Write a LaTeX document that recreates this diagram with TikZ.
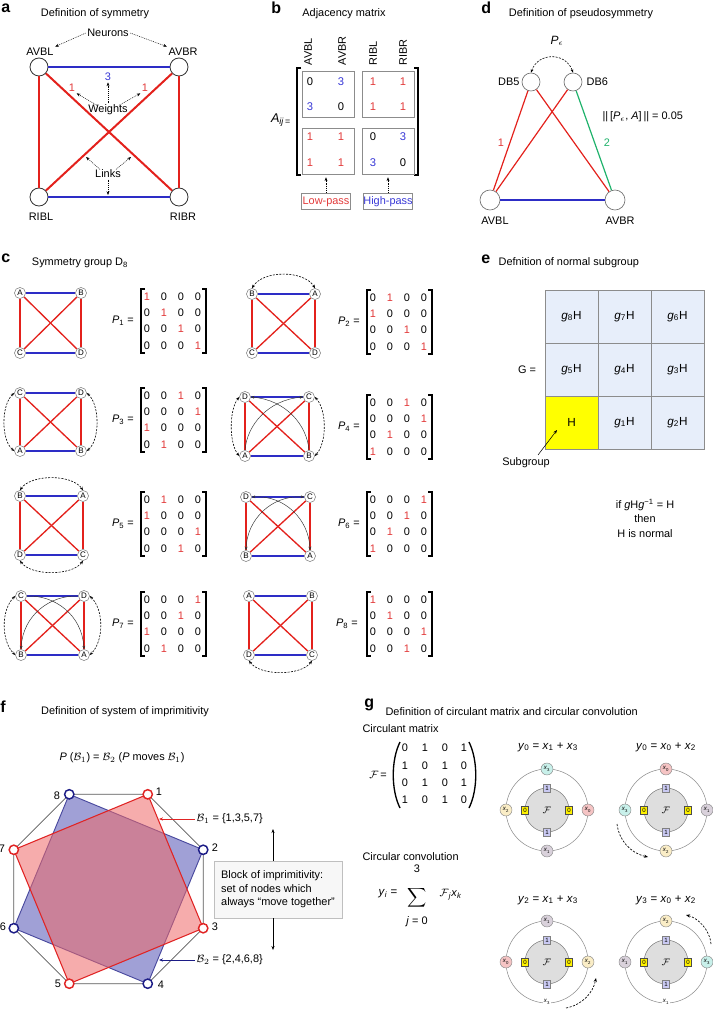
\documentclass[tikz,border=0pt]{standalone}
\usepackage{fontspec}
\setmainfont{Liberation Sans}
\usetikzlibrary{arrows.meta,calc}
\definecolor{cred}{HTML}{E3211C}
\definecolor{cblue}{HTML}{2D2DC6}
\definecolor{cgreen}{HTML}{1FB26B}
\definecolor{tred}{HTML}{E23A3A}
\definecolor{tblue}{HTML}{3838D6}
\definecolor{cellbl}{HTML}{E7EEFA}
\definecolor{hyel}{HTML}{FFFF00}
\definecolor{fblue}{HTML}{A0A0D6}
\definecolor{fred}{HTML}{EE6868}
\definecolor{oblue}{HTML}{1C1C86}
\definecolor{ored}{HTML}{E02424}
\definecolor{xpink}{HTML}{F5C4C4}
\definecolor{xgray}{HTML}{D9D1DB}
\definecolor{xcream}{HTML}{FAEDC6}
\definecolor{xcyan}{HTML}{C8F0EA}
\definecolor{onebg}{HTML}{C9C9F2}
\definecolor{zerobg}{HTML}{FFF200}

\newcommand{\sqg}[9]{%
  \node[snode] (#1tl) at (#2,#3) {#6};
  \node[snode] (#1tr) at (#4,#3) {#7};
  \node[snode] (#1bl) at (#2,#5) {#8};
  \node[snode] (#1br) at (#4,#5) {#9};
  \draw[cedgeb] (#1tl) -- (#1tr);
  \draw[cedgeb] (#1bl) -- (#1br);
  \draw[cedger] (#1tl) -- (#1bl);
  \draw[cedger] (#1tr) -- (#1br);
  \draw[cedger] (#1tl) -- (#1br);
  \draw[cedger] (#1tr) -- (#1bl);
}
\newcommand{\pmat}[5]{%
  \node (lab#1) at (#5,#3) {\textit{P}\textsubscript{#1} =};
  \draw[brk] ({#2+4},{#3-32}) -- (#2,{#3-32}) -- (#2,{#3+32}) -- ({#2+4},{#3+32});
  \draw[brk] ({#2+61},{#3-32}) -- ({#2+65},{#3-32}) -- ({#2+65},{#3+32}) -- ({#2+61},{#3+32});
  \foreach \pc [count=\pr] in {#4} {
    \foreach \pk in {1,2,3,4} {
      \ifnum\pk=\pc\relax
        \node[ment,text=tred] (m#1-\pr-\pk) at ({#2+6+(\pk-1)*17},{#3+(\pr-2.5)*16.3}) {1};
      \else
        \node[ment] (m#1-\pr-\pk) at ({#2+6+(\pk-1)*17},{#3+(\pr-2.5)*16.3}) {0};
      \fi
    }
  }%
}
\newcommand{\ringcore}[3]{%
  \draw[ringst] (#2,#3) circle[radius=41];
  \node[disk] (#1d) at (#2,#3) {$\mathcal{F}$};
  \node[onebox] (#1t) at (#2,{#3-22}) {1};
  \node[onebox] (#1b) at (#2,{#3+22}) {1};
  \node[zerobox] (#1l) at ({#2-22},#3) {0};
  \node[zerobox] (#1r) at ({#2+22},#3) {0};
}

\begin{document}
\begin{tikzpicture}[x=0.75pt,y=-0.75pt,
  every node/.style={font=\fontsize{8.2}{9.6}\selectfont, inner sep=1pt},
  plab/.style={font=\fontsize{12}{12}\selectfont\bfseries, anchor=west, inner sep=0pt},
  ann/.style={line width=0.35pt, dash pattern=on 0.7pt off 0.7pt, -{Stealth[length=2.8pt,width=2.2pt]}},
  darc/.style={line width=0.45pt, dash pattern=on 1.5pt off 1pt, {Stealth[length=2.6pt,width=2.1pt]}-{Stealth[length=2.6pt,width=2.1pt]}},
  thinc/.style={line width=0.35pt, black!80, -{Stealth[length=2.6pt,width=2.1pt]}},
  thincc/.style={line width=0.35pt, black!80, {Stealth[length=2.6pt,width=2.1pt]}-{Stealth[length=2.6pt,width=2.1pt]}},
  anode/.style={circle, draw=black!80, fill=white, line width=0.6pt, minimum size=13.5pt, inner sep=0pt},
  aedger/.style={draw=cred, line width=1.5pt},
  aedgeb/.style={draw=cblue, line width=1.5pt},
  mbox/.style={draw=black!45, line width=0.5pt, minimum width=39pt, minimum height=34.5pt, inner sep=0pt},
  pbox/.style={draw=black!45, line width=0.5pt, minimum width=37pt, minimum height=12.5pt, inner sep=0pt},
  bent/.style={font=\fontsize{8.4}{9}\selectfont, inner sep=0pt},
  brk/.style={line width=0.9pt, black},
  dnode/.style={circle, draw=black!55, fill=white, line width=0.5pt, minimum size=13.5pt, inner sep=0pt},
  dnodeb/.style={dnode, minimum size=15pt},
  snode/.style={circle, draw=black!50, fill=white, line width=0.4pt, minimum size=8.3pt, inner sep=0pt, font=\fontsize{6}{6}\selectfont},
  cedger/.style={draw=cred, line width=1pt},
  cedgeb/.style={draw=cblue, line width=1pt},
  ment/.style={font=\fontsize{8.2}{9}\selectfont, inner sep=0pt},
  gcell/.style={draw=black!45, line width=0.5pt, fill=cellbl, minimum size=39.75pt, inner sep=0pt, font=\fontsize{8.8}{9}\selectfont},
  octo/.style={draw=black!65, line width=0.6pt},
  fnode/.style={circle, fill=white, line width=1.1pt, minimum size=7pt, inner sep=0pt},
  blkbox/.style={draw=black!25, fill=black!3, line width=0.6pt, minimum width=96pt, minimum height=42.75pt, align=left, inner sep=3pt, font=\fontsize{8.2}{10.1}\selectfont},
  ringst/.style={draw=black!45, line width=0.4pt},
  disk/.style={circle, draw=black!50, fill=black!13, line width=0.4pt, minimum size=33pt, inner sep=0pt, font=\fontsize{7}{7}\selectfont},
  onebox/.style={draw=black!50, fill=onebg, line width=0.35pt, minimum width=5.5pt, minimum height=6pt, inner sep=0pt, font=\fontsize{4.6}{5}\selectfont},
  zerobox/.style={draw=black!70, fill=zerobg, line width=0.35pt, minimum width=5.5pt, minimum height=6pt, inner sep=0pt, font=\fontsize{4.6}{5}\selectfont},
  xn/.style={circle, draw=black!45, line width=0.35pt, minimum size=9pt, inner sep=0pt, font=\fontsize{4.6}{5}\selectfont},
  garr/.style={line width=0.5pt, dash pattern=on 1.6pt off 1.1pt, -{Stealth[length=3pt,width=2.4pt]}},
  fml/.style={font=\fontsize{8.6}{9}\selectfont}
]
\useasboundingbox (0,0) rectangle (713,1009);

%%%%%%%%%%%%%%%% panel a
\node[plab] (la) at (1,8) {a};
\node (ta) at (95,14) {Definition of symmetry};
\node (neu) at (108,33) {Neurons};
\node (nl1) at (40,52) {AVBL};
\node (nl2) at (183,52) {AVBR};
\node (nl3) at (41,217) {RIBL};
\node (nl4) at (183,217) {RIBR};
\node[anode] (a1) at (39,67) {};
\node[anode] (a2) at (179,67) {};
\node[anode] (a3) at (39,197) {};
\node[anode] (a4) at (179,197) {};
\draw[aedgeb] (a1) -- (a2);
\draw[aedgeb] (a3) -- (a4);
\draw[aedger] (a1) -- (a3);
\draw[aedger] (a2) -- (a4);
\draw[aedger] (a1) -- (a4);
\draw[aedger] (a2) -- (a3);
\node[text=tblue] (w3) at (108,77) {3};
\node[text=tred] (w1) at (72,88) {1};
\node[text=tred] (w2) at (145,88) {1};
\node (wts) at (108,110) {Weights};
\draw[ann] ($(wts.north)+(-11,2)$) -- (w1.south east);
\draw[ann] (wts.north) -- (w3.south);
\draw[ann] ($(wts.north)+(11,2)$) -- (w2.south west);
\node (lnk) at (108,174) {Links};
\coordinate (lk1) at (86,157);
\coordinate (lk2) at (131,157);
\coordinate (lk3) at (108,195);
\draw[ann] ($(lnk.north)+(-8,1)$) -- (lk1);
\draw[ann] ($(lnk.north)+(8,1)$) -- (lk2);
\draw[ann] (lnk.south) -- (lk3);
\draw[ann] (neu.west) -- (nl1.north east);
\draw[ann] (neu.east) -- (nl2.north west);

%%%%%%%%%%%%%%%% panel b
\node[plab] (lb) at (271,8) {b};
\node (tb) at (344,14) {Adjacency matrix};
\node[rotate=90, anchor=west] (cb1) at (308,67) {AVBL};
\node[rotate=90, anchor=west] (cb2) at (342,67) {AVBR};
\node[rotate=90, anchor=west] (cb3) at (373,67) {RIBL};
\node[rotate=90, anchor=west] (cb4) at (403,67) {RIBR};
\draw[brk] (301,68) -- (297,68) -- (297,175) -- (301,175);
\draw[brk] (414,68) -- (418,68) -- (418,175) -- (414,175);
\node (aij) at (281,120) {\fontsize{9.5}{10}\selectfont\textit{A}\textsubscript{\textit{ij}\,=}};
\node[mbox] (bTL) at (328,94) {};
\node[mbox] (bBL) at (328,151) {};
\node[mbox] (bTR) at (388,94) {};
\node[mbox] (bBR) at (388,151) {};
\node[bent] (e11) at (310,82) {0};
\node[bent,text=tblue] (e12) at (341,82) {3};
\node[bent,text=tblue] (e21) at (310,107) {3};
\node[bent] (e22) at (341,107) {0};
\node[bent,text=tred] (e13) at (373,82) {1};
\node[bent,text=tred] (e14) at (403,82) {1};
\node[bent,text=tred] (e23) at (373,107) {1};
\node[bent,text=tred] (e24) at (403,107) {1};
\node[bent,text=tred] (e31) at (310,137) {1};
\node[bent,text=tred] (e32) at (341,137) {1};
\node[bent,text=tred] (e41) at (310,163) {1};
\node[bent,text=tred] (e42) at (341,163) {1};
\node[bent] (e33) at (373,137) {0};
\node[bent,text=tblue] (e34) at (403,137) {3};
\node[bent,text=tblue] (e43) at (373,163) {3};
\node[bent] (e44) at (403,163) {0};
\node[pbox,text=tred] (lp) at (326,201.5) {Low-pass};
\node[pbox,text=tblue] (hp) at (388,201.5) {High-pass};
\draw[ann] (lp.north) -- ($(lp.north |- bBL.south)+(0,3)$);
\draw[ann] (hp.north) -- ($(hp.north |- bBR.south)+(0,3)$);

%%%%%%%%%%%%%%%% panel d
\node[plab] (ld) at (481,8) {d};
\node (td) at (581,14) {Definition of pseudosymmetry};
\node (pe) at (557,41) {\fontsize{9}{9}\selectfont\textit{P}$_{\epsilon}$};
\node[dnode] (db5) at (531,82) {};
\node[dnode] (db6) at (573,82) {};
\node[dnodeb] (dv1) at (490,200) {};
\node[dnodeb] (dv2) at (615,200) {};
\node[anchor=east] (ldb5) at (521,82) {DB5};
\node[anchor=west] (ldb6) at (585,82) {DB6};
\node (ldv1) at (495,221) {AVBL};
\node (ldv2) at (620,221) {AVBR};
\draw[darc] (db5.north) .. controls (538,52) and (566,52) .. (db6.north);
\draw[draw=cred, line width=0.9pt] (db5) -- (dv1);
\draw[draw=cred, line width=0.9pt] (db5) -- (dv2);
\draw[draw=cred, line width=0.9pt] (db6) -- (dv1);
\draw[draw=cgreen, line width=0.9pt] (db6) -- (dv2);
\draw[draw=cblue, line width=1.2pt] (dv1) -- (dv2);
\node[text=tred] (d1) at (501,143) {1};
\node[text=cgreen] (d2) at (607,143) {2};
\node[anchor=west] (dnorm) at (601,117) {||\,[\textit{P}$_{\epsilon}$, \textit{A}]\,|| = 0.05};

%%%%%%%%%%%%%%%% panel c
\node[plab] (lc) at (1,258) {c};
\node (tc) at (80,263) {Symmetry group D\textsubscript{8}};
\sqg{p1}{20}{293}{81}{353}{A}{B}{C}{D}
\sqg{p2}{252}{294}{315}{353}{B}{A}{C}{D}
\sqg{p3}{20}{393}{81}{451}{C}{D}{A}{B}
\sqg{p4}{245}{397}{309}{456}{D}{C}{A}{B}
\sqg{p5}{20}{496}{83}{555}{B}{A}{D}{C}
\sqg{p6}{246}{497}{310}{556}{D}{C}{B}{A}
\sqg{p7}{21}{596}{84}{655}{C}{D}{B}{A}
\sqg{p8}{249}{596}{312}{655}{A}{B}{D}{C}
\pmat{1}{141}{321}{1,2,3,4}{123}
\pmat{2}{367}{322}{2,1,3,4}{349}
\pmat{3}{141}{420}{3,4,1,2}{123}
\pmat{4}{367}{427}{3,4,2,1}{349}
\pmat{5}{141}{524}{2,1,4,3}{123}
\pmat{6}{367}{524}{4,3,2,1}{349}
\pmat{7}{141}{624}{4,3,1,2}{123}
\pmat{8}{367}{624}{1,2,4,3}{347}
\draw[darc] (p2tl.north) .. controls (263,270) and (304,270) .. (p2tr.north);
\draw[darc] (p3tl.west) .. controls (1,405) and (1,440) .. (p3bl.west);
\draw[darc] (p3tr.east) .. controls (100,405) and (100,440) .. (p3br.east);
\draw[darc] (p4tl.west) .. controls (229,410) and (229,443) .. (p4bl.west);
\draw[darc] (p4tr.east) .. controls (327,410) and (327,443) .. (p4br.east);
\draw[thinc] (p4bl.north) .. controls (247,425) and (268,400) .. (p4tr.west);
\draw[thinc] (p4br.north) .. controls (307,425) and (286,400) .. (p4tl.east);
\draw[darc] (p5tl.north) .. controls (31,474) and (72,474) .. (p5tr.north);
\draw[darc] (p5bl.south) .. controls (31,576) and (72,576) .. (p5br.south);
\draw[thincc] (p6tl.east) .. controls (285,495) and (309,520) .. (p6br.north);
\draw[thincc] (p6tr.west) .. controls (271,495) and (247,520) .. (p6bl.north);
\draw[darc] (p7tl.west) .. controls (1,610) and (1,641) .. (p7bl.west);
\draw[darc] (p7tr.east) .. controls (104,610) and (104,641) .. (p7br.east);
\draw[thinc] (p7tl.east) .. controls (55,595) and (82,615) .. (p7br.north);
\draw[thinc] (p7tr.west) .. controls (50,595) and (23,615) .. (p7bl.north);
\draw[darc] (p8bl.south) .. controls (260,676) and (301,676) .. (p8br.south);

%%%%%%%%%%%%%%%% panel e
\node[plab] (le) at (481,259) {e};
\node[anchor=west] (te) at (497,263) {Defnition of normal subgroup};
\node[gcell] (g11) at (571.5,316.5) {\textit{g}\textsubscript{8}H};
\node[gcell] (g12) at (624.5,316.5) {\textit{g}\textsubscript{7}H};
\node[gcell] (g13) at (677.5,316.5) {\textit{g}\textsubscript{6}H};
\node[gcell] (g21) at (571.5,369.5) {\textit{g}\textsubscript{5}H};
\node[gcell] (g22) at (624.5,369.5) {\textit{g}\textsubscript{4}H};
\node[gcell] (g23) at (677.5,369.5) {\textit{g}\textsubscript{3}H};
\node[gcell,fill=hyel] (g31) at (571.5,422.5) {H};
\node[gcell] (g32) at (624.5,422.5) {\textit{g}\textsubscript{1}H};
\node[gcell] (g33) at (677.5,422.5) {\textit{g}\textsubscript{2}H};
\node (geq) at (527,370) {G =};
\node (subg) at (526,463) {Subgroup};
\coordinate (sgs) at (538,455);
\coordinate (sge) at (557,430);
\draw[line width=0.4pt, -{Stealth[length=3pt,width=2.3pt]}] (sgs) -- (sge);
\node (nm1) at (645,505) {if \textit{g}H\textit{g}\textsuperscript{−1} = H};
\node (nm2) at (645,519) {then};
\node (nm3) at (645,534) {H is normal};

%%%%%%%%%%%%%%%% panel f
\node[plab] (lf) at (0,707) {f};
\node (tf) at (125,712) {Definition of system of imprimitivity};
\node (pbm) at (122,758) {\textit{P} ($\mathcal{B}_1$) = $\mathcal{B}_2$ (\textit{P} moves $\mathcal{B}_1$)};
\foreach \i/\a in {1/67.5,2/22.5,3/-22.5,4/-67.5,5/-112.5,6/-157.5,7/157.5,8/112.5}
  \coordinate (c\i) at ({108.5+102.5*cos(\a)},{889-102.5*sin(\a)});
\draw[octo] (c1) -- (c2) -- (c3) -- (c4) -- (c5) -- (c6) -- (c7) -- (c8) -- cycle;
\fill[fblue] (c2) -- (c4) -- (c6) -- (c8) -- cycle;
\draw[oblue!80, line width=0.7pt] (c2) -- (c4) -- (c6) -- (c8) -- cycle;
\fill[fred, fill opacity=0.55] (c1) -- (c3) -- (c5) -- (c7) -- cycle;
\draw[ored, line width=0.8pt] (c1) -- (c3) -- (c5) -- (c7) -- cycle;
\foreach \i in {1,3,5,7} \node[fnode, draw=ored] (f\i) at (c\i) {};
\foreach \i in {2,4,6,8} \node[fnode, draw=oblue] (f\i) at (c\i) {};
\node (fl1) at (159,792) {1};
\node (fl2) at (215,848) {2};
\node (fl3) at (215,927) {3};
\node (fl4) at (161,985) {4};
\node (fl5) at (58,984) {5};
\node (fl6) at (3,927) {6};
\node (fl7) at (2,849) {7};
\node (fl8) at (57,796) {8};
\node[anchor=west] (b1l) at (195,819) {$\mathcal{B}_1$ = \{1,3,5,7\}};
\node[anchor=west] (b2l) at (195,960) {$\mathcal{B}_2$ = \{2,4,6,8\}};
\coordinate (b1p) at (159,819);
\coordinate (b2p) at (159,960);
\draw[ored, line width=0.5pt, -{Stealth[length=3pt,width=2.4pt]}] (b1l.west) -- (b1p);
\draw[oblue, line width=0.5pt, -{Stealth[length=3pt,width=2.4pt]}] (b2l.west) -- (b2p);
\node[blkbox] (blk) at (278,889.5) {Block of imprimitivity:\\set of nodes which\\always “move together”};
\coordinate (bu) at (273,829);
\coordinate (bd) at (273,950);
\draw[line width=0.4pt, -{Stealth[length=3pt,width=2.3pt]}] (blk.north -| bu) -- (bu);
\draw[line width=0.4pt, -{Stealth[length=3pt,width=2.3pt]}] (blk.south -| bd) -- (bd);

%%%%%%%%%%%%%%%% panel g
\node[plab] (lg) at (364,705) {g};
\node[anchor=west] (tg) at (384,712) {Definition of circulant matrix and circular convolution};
\node[anchor=west] (cmt) at (361,729) {Circulant matrix};
\node (feq) at (378,775) {$\mathcal{F}$\,=};
\draw[line width=1pt] (400,742) .. controls (391,760) and (391,790) .. (400,808);
\draw[line width=1pt] (469,742) .. controls (478,760) and (478,790) .. (469,808);
\foreach \rw/\yy in {1/748,2/766,3/783,4/800} {
  \foreach \cl/\xx in {1/405,2/425,3/445,4/464} {
    \pgfmathtruncatemacro{\vv}{mod(\rw+\cl,2)}
    \node[ment] (fm\rw\cl) at (\xx,\yy) {\vv};
  }
}
\node[anchor=west] (ccv) at (361,857) {Circular convolution};
\node (yi) at (388,894) {\fontsize{8.6}{9}\selectfont\textit{y}\textsubscript{\textit{i}} =};
\node[inner sep=0pt] (sig) at (417,898) {\fontsize{8.5}{8.5}\selectfont$\displaystyle\sum$};
\node[inner sep=0pt] (s3) at (417,869) {3};
\node[inner sep=0pt] (sj) at (417,922) {\textit{j} = 0};
\node[anchor=west] (fjx) at (438,895) {$\mathcal{F}$\textsubscript{\textit{j}}\textit{x}\textsubscript{\textit{k}}};
% ring 1
\node[fml] (y1) at (548,747) {\textit{y}\textsubscript{0} = \textit{x}\textsubscript{1} + \textit{x}\textsubscript{3}};
\ringcore{r1}{547}{810}
\node[xn, fill=xcyan] (r1n) at (547,769) {\textit{x}\textsubscript{3}};
\node[xn, fill=xpink] (r1e) at (588,810) {\textit{x}\textsubscript{0}};
\node[xn, fill=xgray] (r1s) at (547,851) {\textit{x}\textsubscript{1}};
\node[xn, fill=xcream] (r1w) at (506,810) {\textit{x}\textsubscript{2}};
% ring 2
\node[fml] (y2) at (666,747) {\textit{y}\textsubscript{0} = \textit{x}\textsubscript{0} + \textit{x}\textsubscript{2}};
\ringcore{r2}{666}{810}
\node[xn, fill=xpink] (r2n) at (666,769) {\textit{x}\textsubscript{0}};
\node[xn, fill=xgray] (r2e) at (707,810) {\textit{x}\textsubscript{1}};
\node[xn, fill=xcream] (r2s) at (666,851) {\textit{x}\textsubscript{2}};
\node[xn, fill=xcyan] (r2w) at (625,810) {\textit{x}\textsubscript{3}};
\coordinate (g2s) at (617,824);
\coordinate (g2e) at (648,857);
\draw[garr] (g2s) .. controls (619,840) and (630,853) .. (g2e);
% ring 3
\node[fml] (y3) at (548,900) {\textit{y}\textsubscript{2} = \textit{x}\textsubscript{1} + \textit{x}\textsubscript{3}};
\ringcore{r3}{547}{962}
\node[xn, fill=xgray] (r3n) at (547,921) {\textit{x}\textsubscript{1}};
\node[xn, fill=xcream] (r3e) at (588,962) {\textit{x}\textsubscript{2}};
\node[fill=white, inner sep=0.4pt, font=\fontsize{4.6}{5}\selectfont] (r3s) at (547,1002) {\textit{x}\textsubscript{3}};
\node[xn, fill=xpink] (r3w) at (506,962) {\textit{x}\textsubscript{0}};
\coordinate (g3s) at (566,1008);
\coordinate (g3e) at (596,978);
\draw[garr] (g3s) .. controls (582,1005) and (593,993) .. (g3e);
% ring 4
\node[fml] (y4) at (666,900) {\textit{y}\textsubscript{3} = \textit{x}\textsubscript{0} + \textit{x}\textsubscript{2}};
\ringcore{r4}{666}{962}
\node[xn, fill=xcream] (r4n) at (666,921) {\textit{x}\textsubscript{2}};
\node[xn, fill=xcyan] (r4e) at (707,962) {\textit{x}\textsubscript{3}};
\node[fill=white, inner sep=0.4pt, font=\fontsize{4.6}{5}\selectfont] (r4s) at (666,1002) {\textit{x}\textsubscript{1}};
\node[xn, fill=xgray] (r4w) at (625,962) {\textit{x}\textsubscript{1}};
\coordinate (g4s) at (711,944);
\coordinate (g4e) at (686,915);
\draw[garr] (g4s) .. controls (710,930) and (698,918) .. (g4e);
\end{tikzpicture}
\end{document}
